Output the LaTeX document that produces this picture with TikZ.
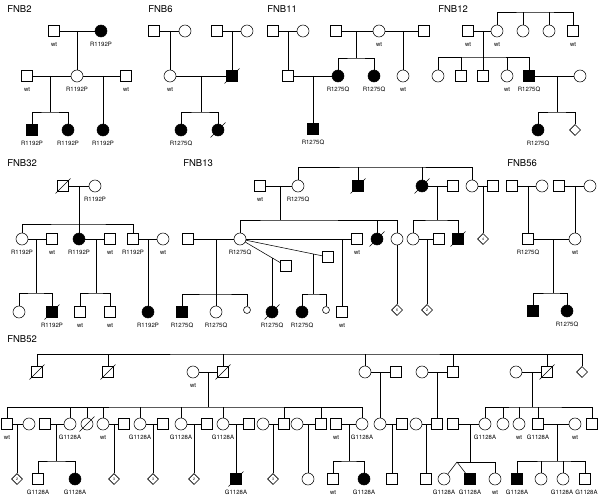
\documentclass[tikz,border=0pt]{standalone}
\usepackage{fontspec}
\setmainfont{TeX Gyre Heros}
\usepackage{tikz}
\usetikzlibrary{shapes.geometric, calc}

\begin{document}
\begin{tikzpicture}[
    x=1pt, y=-1pt, line width=0.55pt,
    male/.style={draw, rectangle, minimum size=11pt, inner sep=0pt, fill=white},
    female/.style={draw, circle, minimum size=12pt, inner sep=0pt, fill=white},
    baby/.style={draw, circle, minimum size=7pt, inner sep=0pt, fill=white},
    unknown/.style={draw, diamond, minimum size=11pt, inner sep=0pt, fill=white,
        font=\fontsize{3.5}{4}\selectfont},
    aff/.style={fill=black},
    dead/.style={append after command={
        ([shift={(-7.5pt,-7.5pt)}]\tikzlastnode.center) edge
        ([shift={(7.5pt,7.5pt)}]\tikzlastnode.center)}},
    family/.style={anchor=west, inner sep=0pt, font=\fontsize{9.5}{11}\selectfont},
    every label/.style={font=\fontsize{6}{7}\selectfont, inner sep=0pt,
        text height=4.3pt, text depth=0pt},
    label distance=5pt
]
\useasboundingbox (0,0) rectangle (600,500);

% --- FNB2
\node[family] (t2) at (7,9) {FNB2};
\node[male, label=below:wt]            (b2m1) at (54,31)   {};
\node[female, aff, label=below:R1192P] (b2f1) at (101,31)  {};
\node[male, label=below:wt]            (b2m2) at (27,76)   {};
\node[female, label=below:R1192P]      (b2f2) at (77,76)   {};
\node[male, label=below:wt]            (b2m3) at (126,76)  {};
\node[male, aff, label=below:R1192P]   (b2c1) at (32,130)  {};
\node[female, aff, label=below:R1192P] (b2c2) at (68,130)  {};
\node[female, aff, label=below:R1192P] (b2c3) at (103,130) {};
\coordinate (b2j1) at (77,31);
\coordinate (b2j2) at (50,76);
\coordinate (b2s2) at (50,112);
\coordinate (b2j3) at (103,76);
\draw (b2m1) -- (b2f1);
\draw (b2j1) -- (b2f2);
\draw (b2m2) -- (b2f2);
\draw (b2f2) -- (b2m3);
\draw (b2j2) -- (b2s2);
\draw (b2c1) |- (b2s2) -| (b2c2);
\draw (b2j3) -- (b2c3);

% --- FNB6
\node[family] (t6) at (148,9) {FNB6};
\node[male]                            (b6m1) at (154,31)  {};
\node[female]                          (b6f1) at (185,31)  {};
\node[male]                            (b6m2) at (217,31)  {};
\node[female]                          (b6f2) at (247,31)  {};
\node[female, label=below:wt]          (b6f3) at (170,76)  {};
\node[male, aff, dead]                 (b6m3) at (232,76)  {};
\node[female, aff, label=below:R1275Q] (b6c1) at (181,130) {};
\node[female, aff, dead]               (b6c2) at (218,130) {};
\coordinate (b6j1) at (170,31);
\coordinate (b6j2) at (232,31);
\coordinate (b6j3) at (201,76);
\coordinate (b6s3) at (201,112);
\draw (b6m1) -- (b6f1);
\draw (b6j1) -- (b6f3);
\draw (b6m2) -- (b6f2);
\draw (b6j2) -- (b6m3);
\draw (b6f3) -- (b6m3);
\draw (b6j3) -- (b6s3);
\draw (b6c1) |- (b6s3) -| (b6c2);

% --- FNB11
\node[family] (t11) at (267,9) {FNB11};
\node[male]                            (b11m1) at (273,31)  {};
\node[female]                          (b11f1) at (303,31)  {};
\node[male]                            (b11m2) at (288,76)  {};
\node[male]                            (b11m3) at (336,31)  {};
\node[female, label=below:wt]          (b11f2) at (379,31)  {};
\node[male]                            (b11m4) at (424,31)  {};
\node[female, aff, label=below:R1275Q] (b11f3) at (338,76)  {};
\node[female, aff, label=below:R1275Q] (b11f4) at (374,76)  {};
\node[female, label=below:wt]          (b11f5) at (403,76)  {};
\node[male, aff, label=below:R1275Q]   (b11c1) at (313,129) {};
\coordinate (b11j1) at (288,31);
\coordinate (b11j2) at (356,31);
\coordinate (b11s2) at (356,58);
\coordinate (b11j3) at (403,31);
\coordinate (b11j4) at (313,76);
\draw (b11m1) -- (b11f1);
\draw (b11j1) -- (b11m2);
\draw (b11m3) -- (b11f2);
\draw (b11f2) -- (b11m4);
\draw (b11j2) -- (b11s2);
\draw (b11f3) |- (b11s2) -| (b11f4);
\draw (b11j3) -- (b11f5);
\draw (b11m2) -- (b11f3);
\draw (b11j4) -- (b11c1);

% --- FNB12
\node[family] (t12) at (438,9) {FNB12};
\node[male, label=below:wt]            (b12m1) at (468,31)  {};
\node[female, label=below:wt]          (b12f1) at (497,31)  {};
\node[female]                          (b12f2) at (523,31)  {};
\node[female]                          (b12f3) at (549,31)  {};
\node[male, label=below:wt]            (b12m2) at (573,31)  {};
\node[female]                          (b12f4) at (438,76)  {};
\node[male]                            (b12m3) at (461,76)  {};
\node[male]                            (b12m4) at (483,76)  {};
\node[female, label=below:wt]          (b12f5) at (507,76)  {};
\node[male, aff, label=below:R1275Q]   (b12m5) at (529,76)  {};
\node[female]                          (b12f6) at (580,76)  {};
\node[female, aff, label=below:R1275Q] (b12c1) at (538,130) {};
\node[unknown]                         (b12u1) at (575,130) {};
\coordinate (b12s0) at (535,12);
\coordinate (b12j1) at (483,31);
\coordinate (b12s1) at (483,57);
\coordinate (b12j2) at (557,76);
\coordinate (b12s2) at (557,112);
\draw (b12f1) |- (b12s0) -| (b12m2);
\draw (b12f2) -- (b12f2 |- b12s0);
\draw (b12f3) -- (b12f3 |- b12s0);
\draw (b12m1) -- (b12f1);
\draw (b12j1) -- (b12m4);
\draw (b12f4) |- (b12s1) -| (b12m5);
\draw (b12m3) -- (b12m3 |- b12s1);
\draw (b12f5) -- (b12f5 |- b12s1);
\draw (b12m5) -- (b12f6);
\draw (b12j2) -- (b12s2);
\draw (b12c1) |- (b12s2) -| (b12u1);

% --- FNB32
\node[family] (t32) at (7,163) {FNB32};
\node[male, dead]                          (b32m1) at (63,186)  {};
\node[female, label=below:R1192P]          (b32f1) at (95,186)  {};
\node[female, label=below:R1192P]          (b32f2) at (22,239)  {};
\node[male, label=below:wt]                (b32m2) at (52,239)  {};
\node[female, aff, label=below:R1192P]     (b32f3) at (79,239)  {};
\node[male, label=below:wt]                (b32m3) at (110,239) {};
\node[male, label=below:R1192P]            (b32m4) at (133,239) {};
\node[female, label=below:wt]              (b32f4) at (163,239) {};
\node[female]                              (b32f5) at (19,312)  {};
\node[male, aff, dead, label=below:R1192P] (b32m5) at (52,312)  {};
\node[male, label=below:wt]                (b32m6) at (80,312)  {};
\node[male, label=below:wt]                (b32m7) at (110,312) {};
\node[female, aff, label=below:R1192P]     (b32f6) at (148,312) {};
\coordinate (b32j1) at (79,186);
\coordinate (b32s1) at (79,224);
\coordinate (b32j2) at (36,239);
\coordinate (b32s2) at (36,293);
\coordinate (b32j3) at (96,239);
\coordinate (b32s3) at (96,293);
\coordinate (b32j4) at (148,239);
\draw (b32m1) -- (b32f1);
\draw (b32j1) -- (b32f3);
\draw (b32f2) |- (b32s1) -| (b32m4);
\draw (b32f2) -- (b32m2);
\draw (b32j2) -- (b32s2);
\draw (b32f5) |- (b32s2) -| (b32m5);
\draw (b32f3) -- (b32m3);
\draw (b32j3) -- (b32s3);
\draw (b32m6) |- (b32s3) -| (b32m7);
\draw (b32m4) -- (b32f4);
\draw (b32j4) -- (b32f6);

% --- FNB13
\node[family] (t13) at (183,163) {FNB13};
\node[male, label=below:wt]                  (b13m1)  at (260,186) {};
\node[female, label=below:R1275Q]            (b13f1)  at (298,186) {};
\node[male, aff, dead]                       (b13m2)  at (358,186) {};
\node[female, aff, dead]                     (b13f2)  at (422,186) {};
\node[male]                                  (b13m3)  at (453,186) {};
\node[female]                                (b13f3)  at (472,186) {};
\node[male]                                  (b13m4)  at (493,186) {};
\node[male]                                  (b13m5)  at (188,239) {};
\node[female, label=below:R1275Q]            (b13f4)  at (240,239) {};
\node[male, label=below:wt]                  (b13m6)  at (357,239) {};
\node[female, aff, dead]                     (b13f5)  at (377,239) {};
\node[female]                                (b13f6)  at (397,239) {};
\node[female]                                (b13f7)  at (413,239) {};
\node[male]                                  (b13m7)  at (439,239) {};
\node[male, aff, dead]                       (b13m8)  at (458,239) {};
\node[unknown]                               (b13u1)  at (483,239) {4};
\node[male]                                  (b13m9)  at (286,266) {};
\node[male]                                  (b13m10) at (328,257) {};
\node[male, aff, label=below:R1275Q]         (b13c1)  at (182,312) {};
\node[female, label=below:R1275Q]            (b13c2)  at (216,312) {};
\node[baby]                                  (b13c3)  at (247,310) {};
\node[female, aff, dead, label=below:R1275Q] (b13c4)  at (272,312) {};
\node[female, aff, label=below:R1275Q]       (b13c5)  at (302,312) {};
\node[baby]                                  (b13c6)  at (326,310) {};
\node[male, label=below:wt]                  (b13c7)  at (342,312) {};
\node[unknown]                               (b13u2)  at (397,310) {6};
\node[unknown]                               (b13u3)  at (427,310) {2};
\coordinate (b13s0) at (380,167);
\coordinate (b13j1) at (280,186);
\coordinate (b13s1) at (280,220);
\coordinate (b13j2) at (437,186);
\coordinate (b13s2) at (437,220);
\coordinate (b13j3) at (483,186);
\coordinate (b13j4) at (216,239);
\coordinate (b13s4) at (216,294);
\coordinate (b13j5) at ($(b13f4)!0.7!(b13m9)$);
\coordinate (b13j6) at ($(b13f4)!0.83!(b13m10)$);
\coordinate (b13s6) at (b13j6 |- b13s4);
\coordinate (b13j7) at (342,239);
\coordinate (b13j8) at (427,239);
\draw (b13f1) |- (b13s0) -| (b13f3);
\draw (b13m2) -- (b13m2 |- b13s0);
\draw (b13f2) -- (b13f2 |- b13s0);
\draw (b13m1) -- (b13f1);
\draw (b13j1) -- (b13s1);
\draw (b13f4) |- (b13s1) -| (b13f6);
\draw (b13f5) -- (b13f5 |- b13s1);
\draw (b13f2) -- (b13m3);
\draw (b13j2) -- (b13s2);
\draw (b13f7) |- (b13s2) -| (b13m8);
\draw (b13f3) -- (b13m4);
\draw (b13j3) -- (b13u1);
\draw (b13m5) -- (b13f4);
\draw (b13j4) -- (b13c2);
\draw (b13c1) |- (b13s4) -| (b13c3);
\draw (b13f4) -- (b13m9);
\draw (b13j5) -- (b13j5 |- b13c4.north);
\draw (b13f4) -- (b13m10);
\draw (b13j6) -- (b13s6);
\draw (b13c5) |- (b13s6) -| (b13c6);
\draw (b13f4) -- (b13m6);
\draw (b13j7) -- (b13c7);
\draw (b13f6) -- (b13u2);
\draw (b13f7) -- (b13m7);
\draw (b13j8) -- (b13u3);

% --- FNB56
\node[family] (t56) at (507,163) {FNB56};
\node[male]                            (b56m1) at (512,186) {};
\node[female]                          (b56f1) at (542,186) {};
\node[male]                            (b56m2) at (559,186) {};
\node[female]                          (b56f2) at (590,186) {};
\node[male, label=below:R1275Q]        (b56m3) at (528,239) {};
\node[female, label=below:wt]          (b56f3) at (575,239) {};
\node[male, aff]                       (b56c1) at (533,311) {};
\node[female, aff, label=below:R1275Q] (b56c2) at (567,311) {};
\coordinate (b56j1) at (528,186);
\coordinate (b56j2) at (575,186);
\coordinate (b56j3) at (553,239);
\coordinate (b56s3) at (553,293);
\draw (b56m1) -- (b56f1);
\draw (b56j1) -- (b56m3);
\draw (b56m2) -- (b56f2);
\draw (b56j2) -- (b56f3);
\draw (b56m3) -- (b56f3);
\draw (b56j3) -- (b56s3);
\draw (b56c1) |- (b56s3) -| (b56c2);

% --- FNB52, generation I
\node[family] (t52) at (7,339) {FNB52};
\node[male, dead]               (b52m1) at (37,372)  {};
\node[male, dead]               (b52m2) at (108,372) {};
\node[female, label=below:wt]   (b52f1) at (193,372) {};
\node[male, dead]               (b52m3) at (223,372) {};
\node[female]                   (b52f2) at (365,372) {};
\node[male]                     (b52m4) at (396,372) {};
\node[female]                   (b52f3) at (422,372) {};
\node[male]                     (b52m5) at (453,372) {};
\node[female]                   (b52f4) at (516,372) {};
\node[male, dead]               (b52m6) at (547,372) {};
\node[unknown]                  (b52u1) at (582,372) {};

% --- FNB52, generation II
\node[male, label=below:wt]         (b52m7)  at (7,424)   {};
\node[female]                       (b52f5)  at (29,424)  {};
\node[male]                         (b52m8)  at (45,424)  {};
\node[female, label=below:G1128A]   (b52f6)  at (70,424)  {};
\node[female, dead]                 (b52f7)  at (87,424)  {};
\node[female, label=below:wt]       (b52f8)  at (103,424) {};
\node[male]                         (b52m9)  at (124,424) {};
\node[female, label=below:G1128A]   (b52f9)  at (140,424) {};
\node[male]                         (b52m10) at (163,424) {};
\node[female, label=below:G1128A]   (b52f10) at (181,424) {};
\node[male]                         (b52m11) at (207,424) {};
\node[female, label=below:G1128A]   (b52f11) at (223,424) {};
\node[male]                         (b52m12) at (249,424) {};
\node[female]                       (b52f12) at (263,424) {};
\node[male]                         (b52m13) at (284,424) {};
\node[female]                       (b52f13) at (297,424) {};
\node[male]                         (b52m14) at (321,424) {};
\node[male, label=below:wt]         (b52m15) at (336,424) {};
\node[female, label=below:G1128A]   (b52f14) at (362,424) {};
\node[female]                       (b52f15) at (380,424) {};
\node[male]                         (b52m16) at (402,424) {};
\node[female]                       (b52f16) at (416,424) {};
\node[male]                         (b52m17) at (437,424) {};
\node[male]                         (b52m18) at (453,424) {};
\node[female, label=below:G1128A]   (b52f17) at (485,424) {};
\node[female]                       (b52f18) at (503,424) {};
\node[female, label=below:wt]       (b52f19) at (519,424) {};
\node[male, label=below:G1128A]     (b52m19) at (538,424) {};
\node[female, label=below:wt]       (b52f20) at (575,424) {};
\node[male]                         (b52m20) at (592,424) {};

% --- FNB52, generation III
\node[unknown]                               (b52u2)  at (17,479)  {2};
\node[male, label=below:G1128A]              (b52m21) at (38,479)  {};
\node[female, aff, label=below:G1128A]       (b52f21) at (75,479)  {};
\node[unknown]                               (b52u3)  at (114,479) {3};
\node[unknown]                               (b52u4)  at (153,479) {3};
\node[unknown]                               (b52u5)  at (194,479) {2};
\node[male, aff, dead, label=below:G1128A]   (b52m22) at (236,479) {};
\node[unknown]                               (b52u6)  at (273,479) {3};
\node[female]                                (b52f22) at (308,479) {};
\node[male, label=below:wt]                  (b52m23) at (333,479) {};
\node[female, aff, label=below:G1128A]       (b52f23) at (364,479) {};
\node[male]                                  (b52m24) at (392,479) {};
\node[male]                                  (b52m25) at (426,479) {};
\node[female, label=below:G1128A]            (b52f24) at (444,479) {};
\node[male, aff, label=below:G1128A]         (b52m26) at (470,479) {};
\node[female, label=below:wt]                (b52f25) at (495,479) {};
\node[male, aff, label=below:G1128A]         (b52m27) at (517,479) {};
\node[female]                                (b52f26) at (541,479) {};
\node[female, label={[xshift=-1pt]below:G1128A}] (b52f27) at (563,479) {};
\node[male, label={[xshift=1.5pt]below:G1128A}]  (b52m28) at (585,479) {};

\coordinate (b52s0)  at (300,354);
\coordinate (b52j1)  at (208,372);
\coordinate (b52s1)  at (208,407);
\coordinate (b52j2)  at (17,424);
\coordinate (b52j3)  at (56,424);
\coordinate (b52s3)  at (56,461);
\coordinate (b52j4)  at (114,424);
\coordinate (b52j5)  at (153,424);
\coordinate (b52j6)  at (194,424);
\coordinate (b52j7)  at (236,424);
\coordinate (b52j8)  at (273,424);
\coordinate (b52j9)  at (308,424);
\coordinate (b52j10) at (349,424);
\coordinate (b52s10) at (349,461);
\coordinate (b52j11) at (380,372);
\coordinate (b52j12) at (392,424);
\coordinate (b52j13) at (437,372);
\coordinate (b52j14) at (426,424);
\coordinate (b52j15) at (532,372);
\coordinate (b52s15) at (532,407);
\coordinate (b52j16) at (470,424);
\coordinate (b52s16) at (470,462);
\coordinate (b52tw)  at (457,462);
\coordinate (b52j17) at (557,424);
\coordinate (b52s17) at (557,461);

% top sibship
\draw (b52m1) |- (b52s0) -| (b52u1);
\draw (b52m2) -- (b52m2 |- b52s0);
\draw (b52m3) -- (b52m3 |- b52s0);
\draw (b52f2) -- (b52f2 |- b52s0);
\draw (b52m5) -- (b52m5 |- b52s0);
\draw (b52m6) -- (b52m6 |- b52s0);
% left branch
\draw (b52f1) -- (b52m3);
\draw (b52j1) -- (b52s1);
\draw (b52m7) |- (b52s1) -| (b52f14);
\draw (b52f6)  -- (b52f6  |- b52s1);
\draw (b52f7)  -- (b52f7  |- b52s1);
\draw (b52f8)  -- (b52f8  |- b52s1);
\draw (b52f9)  -- (b52f9  |- b52s1);
\draw (b52f10) -- (b52f10 |- b52s1);
\draw (b52f11) -- (b52f11 |- b52s1);
\draw (b52m13) -- (b52m13 |- b52s1);
\draw (b52m14) -- (b52m14 |- b52s1);
\draw (b52m7) -- (b52f5);
\draw (b52j2) -- (b52u2);
\draw (b52m8) -- (b52f6);
\draw (b52j3) -- (b52s3);
\draw (b52m21) |- (b52s3) -| (b52f21);
\draw (b52f8) -- (b52m9);
\draw (b52j4) -- (b52u3);
\draw (b52f9) -- (b52m10);
\draw (b52j5) -- (b52u4);
\draw (b52f10) -- (b52m11);
\draw (b52j6) -- (b52u5);
\draw (b52f11) -- (b52m12);
\draw (b52j7) -- (b52m22);
\draw (b52f12) -- (b52m13);
\draw (b52j8) -- (b52u6);
\draw (b52f13) -- (b52m14);
\draw (b52j9) -- (b52f22);
\draw (b52m15) -- (b52f14);
\draw (b52j10) -- (b52s10);
\draw (b52m23) |- (b52s10) -| (b52f23);
% middle branches
\draw (b52f2) -- (b52m4);
\draw (b52j11) -- (b52f15);
\draw (b52f15) -- (b52m16);
\draw (b52j12) -- (b52m24);
\draw (b52f3) -- (b52m5);
\draw (b52j13) -- (b52m17);
\draw (b52f16) -- (b52m17);
\draw (b52j14) -- (b52m25);
% right branch
\draw (b52f4) -- (b52m6);
\draw (b52j15) -- (b52s15);
\draw (b52f17) |- (b52s15) -| (b52m20);
\draw (b52f18) -- (b52f18 |- b52s15);
\draw (b52f19) -- (b52f19 |- b52s15);
\draw (b52m19) -- (b52m19 |- b52s15);
\draw (b52m18) -- (b52f17);
\draw (b52j16) -- (b52s16);
\draw (b52tw) -- (b52f24);
\draw (b52tw) -- (b52m26);
\draw (b52tw) -| (b52f25);
\draw (b52m19) -- (b52f20);
\draw (b52j17) -- (b52s17);
\draw (b52m27) |- (b52s17) -| (b52m28);
\draw (b52f26) -- (b52f26 |- b52s17);
\draw (b52f27) -- (b52f27 |- b52s17);

\end{tikzpicture}
\end{document}
